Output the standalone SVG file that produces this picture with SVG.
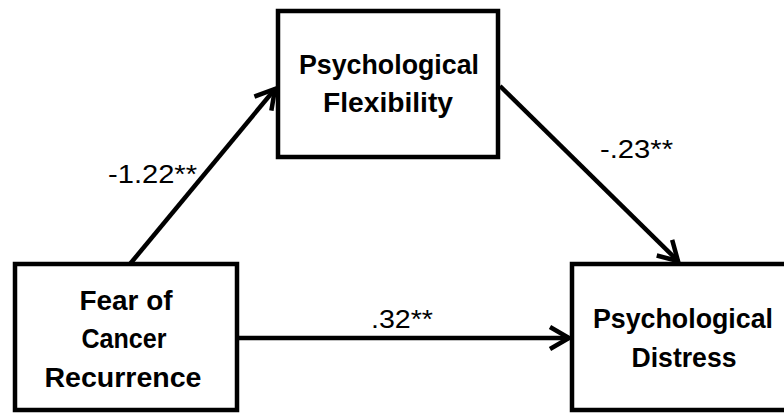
<svg xmlns="http://www.w3.org/2000/svg" width="784" height="414" viewBox="0 0 784 414">
  <style>
    .box { fill: #ffffff; stroke: #000000; stroke-width: 4.5; }
    .node-text { font-family: "Liberation Sans", Arial, sans-serif; font-weight: bold; font-size: 27px; fill: #000000; text-anchor: middle; }
    .edge { fill: none; stroke: #000000; stroke-width: 4.5; }
    .label { font-family: "Liberation Sans", Arial, sans-serif; font-size: 25px; fill: #000000; }
  </style>
  <defs>
    <marker id="arrow" markerUnits="userSpaceOnUse" markerWidth="40" markerHeight="40" viewBox="-30 -20 40 40" refX="0" refY="0" orient="auto" overflow="visible">
      <path d="M-19,-11 L0,0 L-19,11" fill="none" stroke="#000000" stroke-width="4.5" stroke-linejoin="miter" stroke-linecap="butt"/>
    </marker>
  </defs>
  <rect x="0" y="0" width="784" height="414" fill="#ffffff"/>

  <g id="connectors">
    <line class="edge" x1="130" y1="264" x2="275" y2="89" marker-end="url(#arrow)"/>
    <line class="edge" x1="500" y1="86" x2="678" y2="261" marker-end="url(#arrow)"/>
    <line class="edge" x1="237" y1="338" x2="569" y2="338" marker-end="url(#arrow)"/>
    <text class="label" x="108" y="183" textLength="89" lengthAdjust="spacingAndGlyphs">-1.22**</text>
    <text class="label" x="600" y="158" textLength="73" lengthAdjust="spacingAndGlyphs">-.23**</text>
    <text class="label" x="371" y="328" textLength="62" lengthAdjust="spacingAndGlyphs">.32**</text>
  </g>

  <g id="node-flexibility">
    <rect class="box" x="278" y="11" width="220" height="146"/>
    <text class="node-text" x="389" y="74" textLength="180" lengthAdjust="spacingAndGlyphs">Psychological</text>
    <text class="node-text" x="388" y="112" textLength="130" lengthAdjust="spacingAndGlyphs">Flexibility</text>
  </g>

  <g id="node-fear">
    <rect class="box" x="15" y="264" width="222" height="146"/>
    <text class="node-text" x="126" y="310" textLength="93" lengthAdjust="spacingAndGlyphs">Fear of</text>
    <text class="node-text" x="124" y="348" textLength="85" lengthAdjust="spacingAndGlyphs">Cancer</text>
    <text class="node-text" x="123" y="387" textLength="157" lengthAdjust="spacingAndGlyphs">Recurrence</text>
  </g>

  <g id="node-distress">
    <rect class="box" x="572" y="264" width="224" height="146"/>
    <text class="node-text" x="683" y="328" textLength="180" lengthAdjust="spacingAndGlyphs">Psychological</text>
    <text class="node-text" x="684" y="367" textLength="105" lengthAdjust="spacingAndGlyphs">Distress</text>
  </g>
</svg>
